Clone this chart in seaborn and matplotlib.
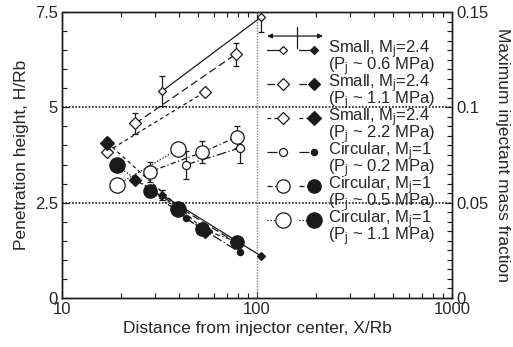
import pandas as pd
import seaborn as sns
import matplotlib.pyplot as plt
from matplotlib.ticker import MultipleLocator, FuncFormatter, LogLocator, NullFormatter
from matplotlib.lines import Line2D

# open symbols -> penetration height H/Rb (left axis)
x_s06 = [32.7, 105.0]
h_s06 = [5.43, 7.37]
he_s06 = [0.40, 0.40]
x_s11 = [23.8, 77.6]
h_s11 = [4.58, 6.39]
he_s11 = [0.27, 0.30]
x_s22 = [17.05, 54.3]
h_s22 = [3.84, 5.41]
he_s22 = [0.0, 0.0]
x_c02 = [43.0, 81.4]
h_c02 = [3.49, 3.93]
he_c02 = [0.37, 0.40]
x_c05 = [28.2, 52.4, 79.2]
h_c05 = [3.31, 3.82, 4.23]
he_c05 = [0.26, 0.29, 0.29]
x_c11 = [19.05, 39.4]
h_c11 = [2.96, 3.90]
he_c11 = [0.0, 0.0]

# filled symbols -> maximum injectant mass fraction (right axis)
m_s06 = [0.054, 0.022]
me_s06 = [0.0026, 0.0]
m_s11 = [0.0619, 0.0292]
me_s11 = [0.0, 0.0]
m_s22 = [0.0815, 0.0352]
me_s22 = [0.0022, 0.0]
m_c02 = [0.0418, 0.024]
me_c02 = [0.0, 0.0]
m_c05 = [0.0561, 0.036, 0.0295]
me_c05 = [0.0, 0.0, 0.0]
m_c11 = [0.0695, 0.0467]
me_c11 = [0.0, 0.0]

labels1 = ["Small, M$_\\mathrm{j}$=2.4"] * 3 + ["Circular, M$_\\mathrm{j}$=1"] * 3
labels2 = ["(P$_\\mathrm{j}$ ~ 0.6 MPa)", "(P$_\\mathrm{j}$ ~ 1.1 MPa)", "(P$_\\mathrm{j}$ ~ 2.2 MPa)",
           "(P$_\\mathrm{j}$ ~ 0.2 MPa)", "(P$_\\mathrm{j}$ ~ 0.5 MPa)", "(P$_\\mathrm{j}$ ~ 1.1 MPa)"]

series = [
    # x, h, h err, m, m err, marker, open size, filled size, linestyle
    (x_s06, h_s06, he_s06, m_s06, me_s06, "D", 3.8, 3.8, "-"),
    (x_s11, h_s11, he_s11, m_s11, me_s11, "D", 6.0, 6.0, (0, (6, 3))),
    (x_s22, h_s22, he_s22, m_s22, me_s22, "D", 6.3, 7.3, (0, (3, 2.5))),
    (x_c02, h_c02, he_c02, m_c02, me_c02, "o", 5.8, 4.5, (0, (8, 2, 1, 2))),
    (x_c05, h_c05, he_c05, m_c05, me_c05, "o", 9.6, 9.6, (0, (4, 2, 1, 2))),
    (x_c11, h_c11, he_c11, m_c11, me_c11, "o", 11.0, 11.0, (0, (1, 1.5))),
]

sns.set_theme(style="white")
plt.rcParams["font.family"] = ["Liberation Sans", "DejaVu Sans"]
plt.rcParams["mathtext.fontset"] = "custom"
plt.rcParams["mathtext.rm"] = "Liberation Sans"
plt.rcParams["mathtext.it"] = "Liberation Sans:italic"

fig = plt.figure(figsize=(5.13, 3.47), dpi=100)
ax = fig.add_axes([0.1209, 0.1412, 0.7602, 0.8242])
ax2 = ax.twinx()

for x, h, he, m, me, mk, ms_o, ms_f, ls in series:
    sns.lineplot(x=x, y=h, ax=ax, color="k", marker=mk, markersize=ms_o,
                 markerfacecolor="white", markeredgecolor="k", markeredgewidth=0.9,
                 linestyle=ls, linewidth=0.9, errorbar=None, zorder=3)
    xe = [a for a, e in zip(x, he) if e > 0]
    if xe:
        ax.errorbar(xe, [b for b, e in zip(h, he) if e > 0], yerr=[e for e in he if e > 0],
                    fmt="none", ecolor="k", elinewidth=0.9, capsize=2.5, capthick=0.9, zorder=2)
    sns.lineplot(x=x, y=m, ax=ax2, color="k", marker=mk, markersize=ms_f,
                 markerfacecolor="k", markeredgecolor="k", markeredgewidth=0.9,
                 linestyle=ls, linewidth=0.9, errorbar=None, zorder=3)
    xe = [a for a, e in zip(x, me) if e > 0]
    if xe:
        ax2.errorbar(xe, [b for b, e in zip(m, me) if e > 0], yerr=[e for e in me if e > 0],
                     fmt="none", ecolor="k", elinewidth=0.9, capsize=2.5, capthick=0.9, zorder=2)

ax.axhline(2.5, color="k", linestyle=(0, (1, 1)), linewidth=1.2, zorder=1)
ax.axhline(5.0, color="k", linestyle=(0, (1, 1)), linewidth=1.2, zorder=1)
ax.axvline(100, color="gray", linestyle=(0, (1, 1)), linewidth=1.0, zorder=1)

ax.set_xscale("log")
ax.set_xlim(10, 1000)
ax.set_ylim(0, 7.5)
ax2.set_ylim(0, 0.15)

fmt = FuncFormatter(lambda v, p: "%g" % v)
ax.xaxis.set_major_locator(LogLocator(base=10))
ax.xaxis.set_minor_locator(LogLocator(base=10, subs=range(2, 10)))
ax.xaxis.set_major_formatter(fmt)
ax.xaxis.set_minor_formatter(NullFormatter())
ax.yaxis.set_major_locator(MultipleLocator(2.5))
ax.yaxis.set_minor_locator(MultipleLocator(0.5))
ax.yaxis.set_major_formatter(fmt)
ax2.yaxis.set_major_locator(MultipleLocator(0.05))
ax2.yaxis.set_minor_locator(MultipleLocator(0.005))
ax2.yaxis.set_major_formatter(fmt)

ax.tick_params(axis="x", which="both", direction="in", top=True, bottom=True, labelsize=12, pad=3)
ax.tick_params(axis="y", which="both", direction="in", left=True, right=False, labelsize=12, pad=3)
ax2.tick_params(axis="y", which="both", direction="in", right=True, left=False, labelsize=12, pad=3)
for a in (ax, ax2):
    a.tick_params(which="major", length=5, width=0.8, color="k")
    a.tick_params(which="minor", length=3.5, width=0.8, color="k")
    for s in a.spines.values():
        s.set_linestyle((0, (1, 1)))
        s.set_linewidth(1.0)
        s.set_color("k")

ax.set_xlabel("Distance from injector center, X/Rb", fontsize=12.5, labelpad=3)
ax.set_ylabel("Penetration height, H/Rb", fontsize=12.5, labelpad=4)
ax2.set_ylabel("Maximum injectant mass fraction", fontsize=12.5, rotation=270,
               va="bottom", labelpad=5)

# legend drawn by hand: open and filled sample side by side
T = ax2.transAxes
for i in range(6):
    mk, ms_o, ms_f, ls = series[i][5], series[i][6], series[i][7], series[i][8]
    yy = 0.867 - i * 0.1189
    ax2.add_line(Line2D([0.526, 0.567], [yy, yy], transform=T, color="k", lw=0.9, ls=ls,
                        marker=mk, markevery=[1], ms=ms_o, mfc="white", mec="k", mew=0.9,
                        clip_on=False, zorder=5))
    ax2.add_line(Line2D([0.608, 0.647], [yy, yy], transform=T, color="k", lw=0.9, ls=ls,
                        marker=mk, markevery=[1], ms=ms_f, mfc="k", mec="k", mew=0.9,
                        clip_on=False, zorder=5))
    ax2.text(0.682, yy, labels1[i], transform=T, fontsize=12, va="center", ha="left", zorder=5)
    ax2.text(0.682, yy - 0.0594, labels2[i], transform=T, fontsize=12, va="center", ha="left", zorder=5)

ax2.annotate("", xy=(0.526, 0.916), xytext=(0.669, 0.916), xycoords=T, textcoords=T,
             arrowprops=dict(arrowstyle="<|-|>", color="k", lw=0.9, mutation_scale=7,
                             shrinkA=0, shrinkB=0))
ax2.add_line(Line2D([0.602, 0.602], [0.873, 0.949], transform=T, color="k", lw=0.9, clip_on=False))

fig.savefig("out.png", dpi=100)
